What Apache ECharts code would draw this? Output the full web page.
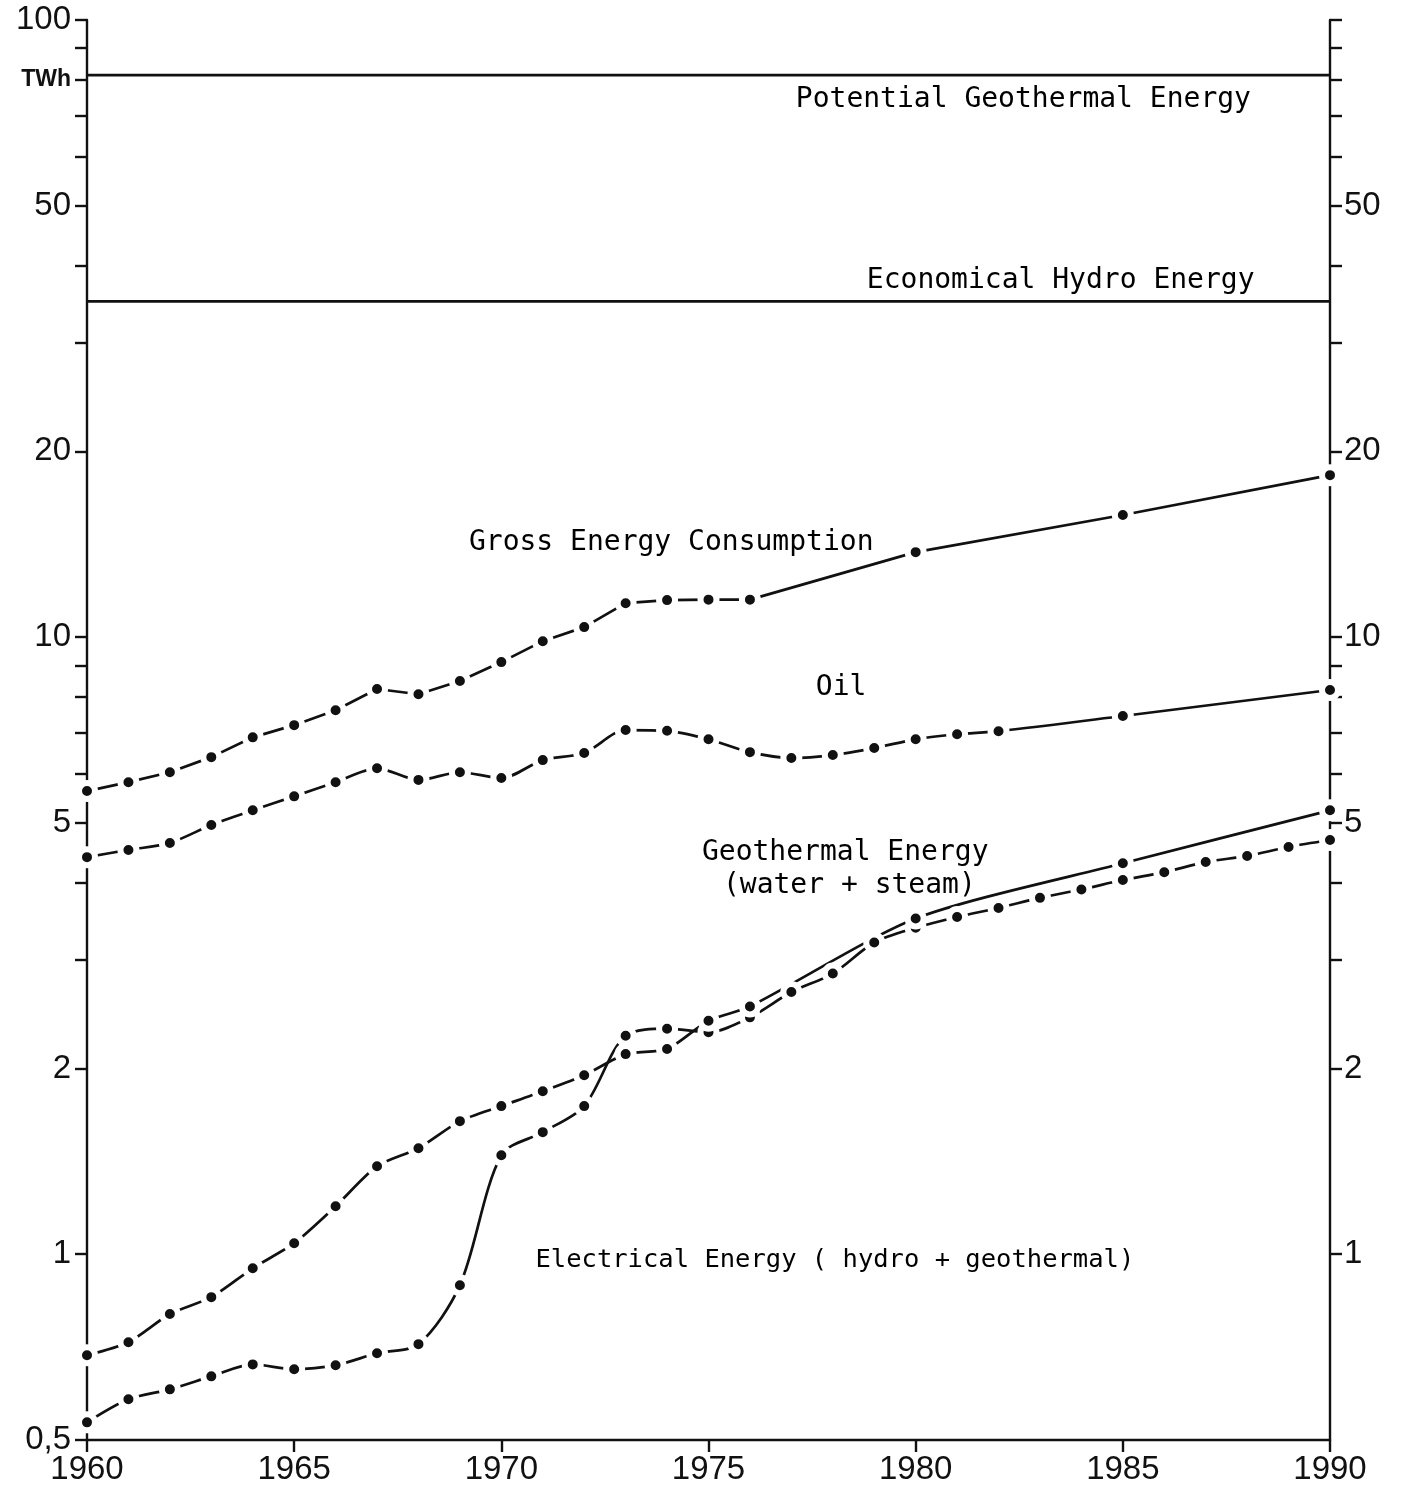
<!DOCTYPE html>
<html>
<head>
<meta charset="utf-8">
<title>Energy TWh 1960-1990</title>
<script src="https://cdn.jsdelivr.net/npm/echarts@6/dist/echarts.min.js"></script>
<style>
  html, body { margin: 0; padding: 0; background: #fff; }
  #main { width: 1403px; height: 1491px; }
</style>
</head>
<body>
<div id="main"></div>
<script>
// values (TWh, log scale)
const grossYears = [1960,1961,1962,1963,1964,1965,1966,1967,1968,1969,1970,1971,1972,1973,1974,1975,1976,1980,1985,1990];
const grossValues = [5.63,5.82,6.04,6.39,6.88,7.2,7.61,8.24,8.08,8.49,9.11,9.85,10.38,11.35,11.48,11.5,11.5,13.73,15.77,18.3];

const oilYears = [1960,1961,1962,1963,1964,1965,1966,1967,1968,1969,1970,1971,1972,1973,1974,1975,1976,1977,1978,1979,1980,1981,1982,1985,1990];
const oilValues = [4.40,4.52,4.64,4.96,5.24,5.52,5.82,6.13,5.87,6.04,5.91,6.32,6.49,7.07,7.05,6.83,6.51,6.37,6.44,6.61,6.83,6.96,7.04,7.45,8.21];

const geoYears = [1960,1961,1962,1963,1964,1965,1966,1967,1968,1969,1970,1971,1972,1973,1974,1975,1976,1980,1985,1990];
const geoValues = [0.686,0.72,0.80,0.852,0.949,1.042,1.196,1.389,1.485,1.643,1.738,1.837,1.95,2.11,2.15,2.39,2.52,3.50,4.30,5.24];

const elecYears = [1960,1961,1962,1963,1964,1965,1966,1967,1968,1969,1970,1971,1972,1973,1974,1975,1976,1977,1978,1979,1980,1981,1982,1983,1984,1985,1986,1987,1988,1989,1990];
const elecValues = [0.534,0.582,0.604,0.634,0.663,0.651,0.661,0.691,0.715,0.891,1.447,1.577,1.738,2.26,2.32,2.29,2.42,2.66,2.85,3.20,3.38,3.52,3.64,3.78,3.90,4.04,4.16,4.32,4.42,4.57,4.69];

const potentialGeothermal = 81.4;
const economicalHydro = 35.0;

// axis ticks / labels
const yTicks = [0.5,1,2,3,4,5,6,7,8,9,10,20,30,40,50,60,70,80,90,100];
const yTicksRight = [1,2,3,4,5,6,7,8,9,10,20,30,40,50,60,70,80,90,100];
const yLabelsLeft = [0.5,1,2,5,10,20,50,80,100];
const yLabelsRight = [1,2,5,10,20,50];

// text annotations [year, value, text]
const notes = [
  [1982.6, 74.2, 'Potential Geothermal Energy'],
  [1983.5, 37.8, 'Economical Hydro Energy'],
  [1974.1, 14.2, 'Gross Energy Consumption'],
  [1978.2, 8.27, 'Oil'],
  [1978.3, 4.47, 'Geothermal Energy'],
  [1978.4, 3.96, '(water + steam)'],
  [1978.05, 0.978, 'Electrical Energy ( hydro + geothermal)']
];

const ink = '#111';
const numFont = 'Liberation Sans';

function zip(xs, ys) {
  return xs.map((x, i) => [x, ys[i]]);
}

function near(a, b) {
  return Math.abs(a - b) < 1e-6 * b;
}

// curve + dots with a white ring, like the pen-drawn gaps round each point
function curve(name, xs, ys, smooth) {
  return [{
    name: name,
    type: 'line',
    data: zip(xs, ys),
    smooth: smooth,
    symbol: 'none',
    lineStyle: { color: ink, width: 2.7 },
    emphasis: { disabled: true },
    z: 3
  }, {
    name: name,
    type: 'scatter',
    data: zip(xs, ys),
    symbol: 'circle',
    symbolSize: 16,
    itemStyle: { color: ink, opacity: 1, borderColor: '#fff', borderWidth: 6 },
    emphasis: { disabled: true },
    silent: true,
    z: 4
  }];
}

function flat(name, v) {
  return {
    name: name,
    type: 'line',
    data: [[1960, v], [1990, v]],
    symbol: 'none',
    lineStyle: { color: ink, width: 2.7 },
    z: 2
  };
}

const chart = echarts.init(document.getElementById('main'));

const yBase = {
  type: 'log',
  logBase: 10,
  min: 0.5,
  max: 100,
  splitLine: { show: false },
  axisLine: { show: true, lineStyle: { color: ink, width: 2.4 } },
  axisTick: { show: true, inside: false, length: 12, lineStyle: { color: ink, width: 2.4 } }
};

chart.setOption({
  animation: false,
  backgroundColor: '#fff',
  grid: { left: 87, right: 73, top: 20, bottom: 51, containLabel: false },
  xAxis: {
    type: 'value',
    min: 1960,
    max: 1990,
    interval: 5,
    splitLine: { show: false },
    axisLine: { lineStyle: { color: ink, width: 2.4 } },
    axisTick: { show: true, length: 12, lineStyle: { color: ink, width: 2.4 } },
    axisLabel: {
      color: ink,
      fontFamily: numFont,
      fontSize: 33,
      margin: 13,
      formatter: v => String(v)
    }
  },
  yAxis: [
    Object.assign({}, yBase, {
      position: 'left',
      axisTick: Object.assign({}, yBase.axisTick, { customValues: yTicks }),
      axisLabel: {
        customValues: yLabelsLeft,
        color: ink,
        fontFamily: numFont,
        fontSize: 33,
        margin: 16,
        formatter: function (v) {
          if (near(v, 0.5)) return '0,5';
          if (near(v, 80)) return '{u|TWh}';
          return String(Math.round(v));
        },
        rich: {
          u: { fontFamily: numFont, fontSize: 23, fontWeight: 'bold', color: ink }
        }
      }
    }),
    Object.assign({}, yBase, {
      position: 'right',
      axisTick: Object.assign({}, yBase.axisTick, { customValues: yTicksRight }),
      axisLabel: {
        customValues: yLabelsRight,
        color: ink,
        fontFamily: numFont,
        fontSize: 33,
        margin: 14,
        formatter: v => String(Math.round(v))
      }
    })
  ],
  series: [
    flat('Potential Geothermal Energy', potentialGeothermal),
    flat('Economical Hydro Energy', economicalHydro)
  ].concat(
    curve('Gross Energy Consumption', grossYears, grossValues, 0),
    curve('Oil', oilYears, oilValues, 0.3),
    curve('Electrical Energy (hydro + geothermal)', elecYears, elecValues, 0.3),
    curve('Geothermal Energy (water + steam)', geoYears, geoValues, 0.25),
    [{
      name: 'notes',
      type: 'scatter',
      // the long bottom caption is lettered a little tighter
      data: notes.map(n => ({ value: n, label: n[2].length > 30 ? { fontSize: 25.5 } : {} })),
      symbolSize: 0,
      silent: true,
      itemStyle: { opacity: 1 },
      z: 5,
      label: {
        show: true,
        position: 'inside',
        color: '#000',
        opacity: 1,
        fontFamily: 'DejaVu Sans Mono',
        fontSize: 28,
        formatter: p => p.value[2]
      }
    }]
  )
});
</script>
</body>
</html>
